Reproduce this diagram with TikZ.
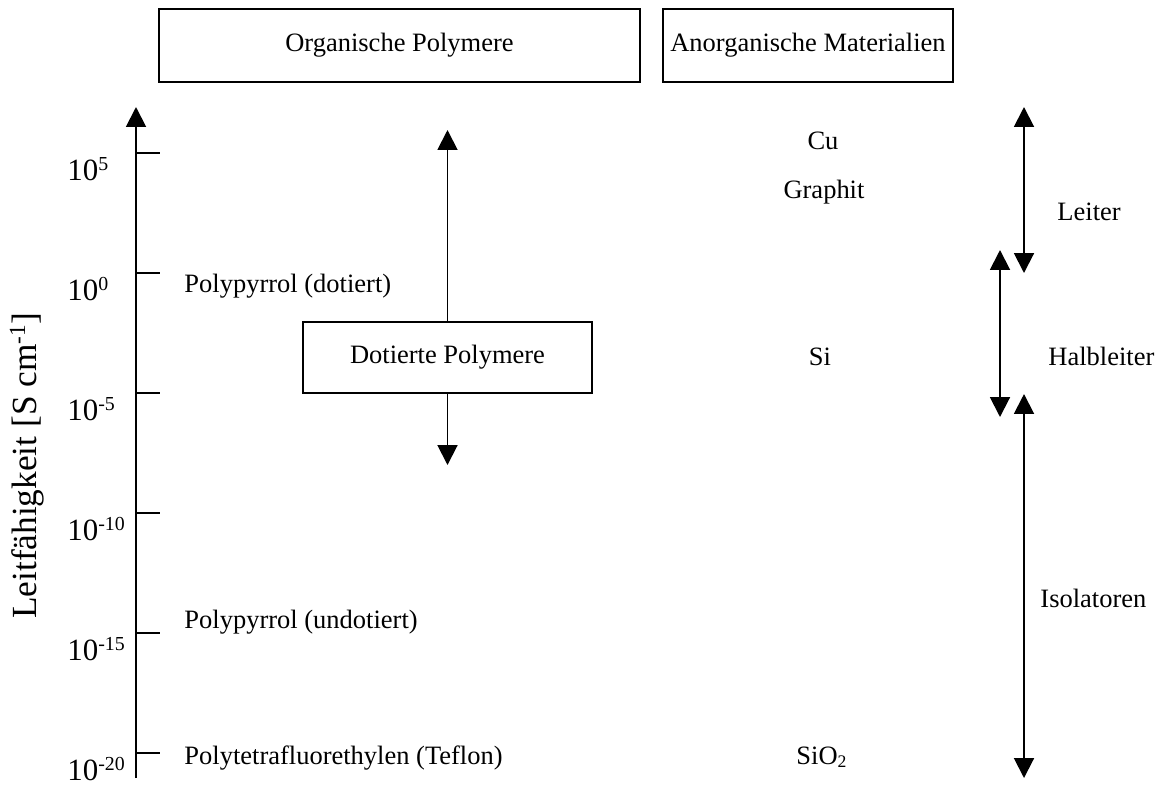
\documentclass[tikz,border=0pt]{standalone}
\usepackage{fontspec}
\setmainfont{Liberation Serif}
\usetikzlibrary{arrows.meta}
\def\pxu{0.453}
\newcommand\tsup[1]{\raisebox{4.5pt}{\fontsize{9}{10}\selectfont #1}}
\newcommand\ysup[1]{\raisebox{5.2pt}{\fontsize{10.5}{12}\selectfont #1}}
\begin{document}
\begin{tikzpicture}[x=0.453pt,y=-0.453pt,
  every node/.style={inner sep=0pt, font=\fontsize{12}{14}\selectfont},
  box/.style={draw, line width=0.9pt},
  ln/.style={line width=0.9pt},
  tip/.tip={Triangle[width=9pt,length=9pt]},
  arr/.style={ln, -tip},
  darr/.style={ln, tip-tip},
  tlab/.style={anchor=base west, font=\fontsize{14}{16}\selectfont},
  lab/.style={anchor=base west},
  clab/.style={anchor=base},
]
\useasboundingbox (0,0) rectangle (1167,784);
% header boxes
\node[box, minimum width={481*\pxu pt}, minimum height={73*\pxu pt}] (org) at (399.5,45.5) {Organische Polymere};
\node[box, minimum width={290*\pxu pt}, minimum height={73*\pxu pt}] (anorg) at (808,45.5) {Anorganische Materialien};
% axis
\coordinate (axb) at (136,778);
\coordinate (axt) at (136,107);
\draw[arr] (axb) -- (axt);
% ticks and labels
\foreach \y/\t/\n in {153/5/a,273/0/b,393/-5/c,513/-10/d,633/-15/e,753/-20/f}{
  \coordinate (t\n) at (136,\y);
  \coordinate (te\n) at (160,\y);
  \draw[ln] (t\n) -- (te\n);
  \node[tlab] (l\n) at (67,\y+27) {10\tsup{\t}};
}
% y label
\node[rotate=90, font=\fontsize{16}{18}\selectfont] (ylab) at (27,466) {Leitfähigkeit [S cm\ysup{-1}]};
% organic labels
\node[lab] (ppd) at (184,292) {Polypyrrol (dotiert)};
\node[lab] (ppu) at (184,628) {Polypyrrol (undotiert)};
\node[lab] (ptfe) at (184,764) {Polytetrafluorethylen (Teflon)};
% doped polymers box
\node[box, minimum width={289*\pxu pt}, minimum height={71*\pxu pt}] (dot) at (447.5,357.5) {Dotierte Polymere};
\coordinate (dotup) at (447.5,130);
\coordinate (dotdn) at (447.5,465);
\draw[arr] (dot.north) -- (dotup);
\draw[arr] (dot.south) -- (dotdn);
% inorganic labels
\node[clab] (cu) at (823,149) {Cu};
\node[clab] (gr) at (824,198) {Graphit};
\node[clab] (si) at (820,365) {Si};
\node[clab] (sio) at (822,764) {SiO\textsubscript{2}};
% ranges
\coordinate (lt) at (1024,107);
\coordinate (lb) at (1024,273);
\coordinate (ht) at (1000,250);
\coordinate (hb) at (1000,417);
\coordinate (it) at (1024,394);
\coordinate (ib) at (1024,778);
\draw[darr] (lb) -- (lt);
\draw[darr] (hb) -- (ht);
\draw[darr] (ib) -- (it);
\node[lab] (leiter) at (1057,220) {Leiter};
\node[lab] (halb) at (1048,365) {Halbleiter};
\node[lab] (iso) at (1040,607) {Isolatoren};
\end{tikzpicture}
\end{document}
